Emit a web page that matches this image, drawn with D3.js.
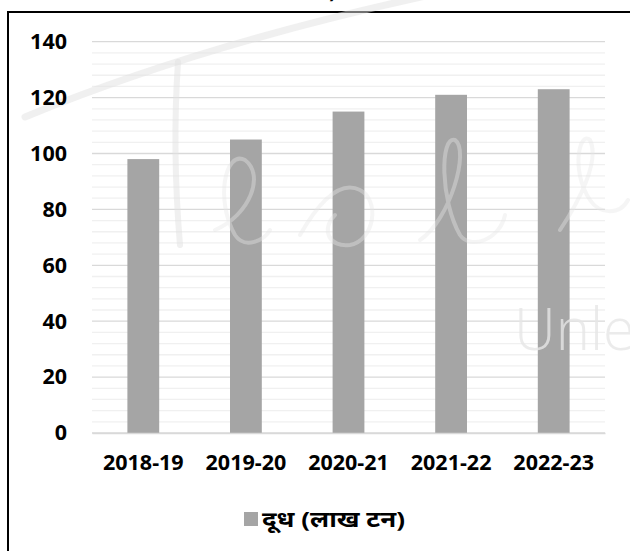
<!DOCTYPE html>
<html><head><meta charset="utf-8">
<script src="https://cdn.jsdelivr.net/npm/d3@7"></script>
<style>
html,body{margin:0;padding:0;background:#fff;overflow:hidden;}
text{font-family:"Open Sans","Noto Sans",sans-serif;}
</style></head>
<body>
<svg id="c" width="630" height="551"></svg>
<script>
const categories = ["2018-19","2019-20","2020-21","2021-22","2022-23"];
const milkValues = [98, 105, 115, 121, 123];
const yTicks = [0,20,40,60,80,100,120,140];
const seriesName = "दूध (लाख टन)";

const svg = d3.select("#c");
const W = 630, H = 551;
const m = {l:92, r:25};

// frame
svg.append("rect").attr("x",8).attr("y",12).attr("width",640).attr("height",560)
  .attr("fill","#fff").attr("stroke","#000").attr("stroke-width",2);

// clipped title tail
svg.append("text").attr("x",336).attr("y",-2).attr("text-anchor","end")
  .attr("font-size",20).attr("font-weight","bold").attr("fill","#000").text(")");

const x = d3.scaleBand().domain(categories).range([m.l, W-m.r]).paddingInner(0.69).paddingOuter(0.345);
const y = d3.scaleLinear().domain([0,140]).range([433, 41.7]);

// minor grid
const minor = d3.range(0,141,4).filter(v=>v%20!==0);
svg.append("g").selectAll("line").data(minor).join("line")
  .attr("x1",m.l).attr("x2",W-m.r).attr("y1",d=>y(d)).attr("y2",d=>y(d))
  .attr("stroke","#f0f0f0").attr("stroke-width",1.3);
// major grid
svg.append("g").selectAll("line").data(yTicks).join("line")
  .attr("x1",m.l).attr("x2",W-m.r).attr("y1",d=>y(d)).attr("y2",d=>y(d))
  .attr("stroke","#d9d9d9").attr("stroke-width",1.3);

// bars
svg.append("g").selectAll("rect").data(milkValues).join("rect")
  .attr("x",(d,i)=>x(categories[i])).attr("width",x.bandwidth())
  .attr("y",d=>y(d)).attr("height",d=>y(0)-y(d)).attr("fill","#a5a5a5");

// watermark overlay
const wm = svg.append("g").attr("fill","none").attr("stroke","#e2e2e2").attr("stroke-opacity",0.5).attr("stroke-linecap","round");
wm.append("path").attr("d","M25,117 Q200,45 430,-5").attr("stroke-width",7);
wm.append("path").attr("d","M178,62 Q172,150 180,245").attr("stroke-width",6);
const wm2 = svg.append("g").attr("fill","none").attr("stroke","#e6e6e6").attr("stroke-opacity",0.4).attr("stroke-linecap","round");
wm2.append("path").attr("d","M215,230 C250,215 265,175 245,160 C225,150 215,200 235,235 C245,250 265,240 270,230").attr("stroke-width",4);
wm2.append("path").attr("d","M300,235 C320,200 340,180 360,190 C380,200 375,240 350,245 C330,248 320,230 335,215").attr("stroke-width",4);
wm2.append("path").attr("d","M420,240 C450,220 470,150 455,140 C440,135 440,200 460,235 C470,250 500,240 505,215").attr("stroke-width",4);
wm2.append("path").attr("d","M560,230 C580,200 600,160 590,140 C580,130 570,170 590,200 C600,215 620,215 628,200").attr("stroke-width",4);
svg.append("text").attr("x",514).attr("y",350).attr("font-size",58).attr("font-weight",300)
  .attr("fill","#e6e6e6").attr("fill-opacity",0.8).attr("font-family","Lato, sans-serif").text("Unle");

// y axis labels
const ya = svg.append("g").attr("transform",`translate(67,0)`)
  .call(d3.axisLeft(y).tickValues(yTicks).tickSize(0).tickPadding(0));
ya.select(".domain").remove();
ya.selectAll("text").attr("font-size",21.5).attr("font-weight","bold").attr("fill","#000")
  .attr("font-family","'Open Sans','Noto Sans',sans-serif");

// x axis labels
const xa = svg.append("g").attr("transform",`translate(0,${y(0)})`)
  .call(d3.axisBottom(x).tickSize(0).tickPadding(22));
xa.select(".domain").attr("stroke","#d9d9d9").attr("stroke-width",1.3);
xa.selectAll("text").attr("font-size",21.5).attr("font-weight","bold").attr("fill","#000")
  .attr("font-family","'Open Sans','Noto Sans',sans-serif");

// legend
svg.append("rect").attr("x",244).attr("y",512).attr("width",14).attr("height",14).attr("fill","#a5a5a5");
svg.append("text").attr("x",262).attr("y",527).attr("font-size",22).attr("font-weight","bold")
  .attr("fill","#000").attr("textLength",143).attr("lengthAdjust","spacingAndGlyphs")
  .attr("font-family","'Noto Sans','Noto Sans Devanagari','Open Sans',sans-serif").text(seriesName);
</script>
</body></html>
